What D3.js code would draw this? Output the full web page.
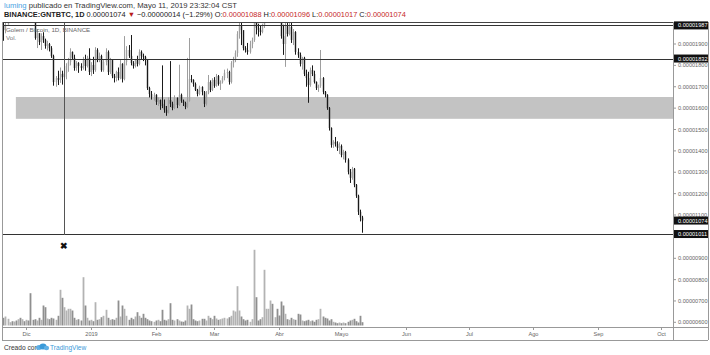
<!DOCTYPE html>
<html><head><meta charset="utf-8">
<script src="https://cdn.jsdelivr.net/npm/d3@7"></script>
<style>body{margin:0;background:#fff}svg{display:block;font-family:"Liberation Sans",Arial,sans-serif}</style>
</head><body><svg id="c" width="710" height="355"></svg>
<script>
// ---- DATA (prices in units of 1e-8 BTC) ----
const startDate = "2018-11-20";
const firstOpen = 1990;
const closes = [1965,1990,2040,2060,2050,2080,2070,2100,2090,2110,2080,2100,2070,2060,2040,1928,1951,1909,1937,1919,1891,1900,1880,1844,1722,1741,1732,1760,1745,1764,1797,1816,1863,1835,1788,1811,1797,1788,1825,1797,1835,1769,1802,1778,1872,1825,1844,1778,1816,1863,1769,1825,1750,1741,1769,1741,1807,1736,1816,1872,1844,1811,1797,1825,1807,1863,1844,1839,1825,1694,1666,1652,1662,1629,1638,1620,1610,1592,1578,1638,1620,1601,1648,1615,1662,1634,1624,1606,1634,1736,1732,1713,1685,1666,1699,1676,1620,1671,1722,1685,1732,1704,1750,1713,1722,1741,1764,1769,1722,1811,1825,1858,1947,1984,1965,1881,1872,1863,1900,1919,2003,1975,1965,1956,1984,2020,2050,2080,2100,2070,2090,2060,2040,1937,1900,1984,1947,1980,1919,1956,1863,1849,1807,1835,1760,1741,1708,1778,1760,1722,1694,1704,1741,1676,1662,1601,1507,1428,1442,1433,1414,1423,1381,1395,1358,1302,1274,1316,1241,1190,1115,1088,1074];
const highs = [2020,2030,2080,2090,2085,2110,2100,2130,2120,2140,2120,2120,2110,2090,2070,2050,1970,1935,1950,1955,1925,1915,1905,1890,1850,1750,1775,1790,1775,1795,1810,1835,1880,1865,1850,1820,1815,1810,1840,1850,1845,1880,1815,1840,1885,1880,1860,1850,1825,1880,1870,1835,1820,1760,1775,1790,1825,1810,1937,1890,1895,1942,1820,1830,1845,1875,1870,1855,1845,1830,1700,1680,1672,1665,1650,1640,1800,1640,1610,1650,1820,1630,1660,1650,1803,1668,1640,1630,1835,1928,1755,1735,1720,1690,1705,1702,1680,1680,1755,1730,1740,1745,1760,1755,1730,1750,1780,1785,1775,1820,1840,1870,1960,2020,2005,1960,1890,1905,1915,1930,2030,2040,1995,1985,1995,2040,2080,2110,2130,2110,2120,2100,2080,2050,1990,2000,2010,1998,2005,1970,1960,1880,1860,1840,1840,1780,1770,1790,1800,1775,1725,1710,1872,1745,1680,1665,1605,1510,1450,1465,1445,1440,1430,1405,1400,1365,1315,1325,1320,1245,1195,1125,1096];
const lows = [1915,1950,2015,2030,2025,2045,2050,2060,2070,2075,2060,2070,2050,2040,2020,1920,1881,1895,1872,1905,1878,1870,1865,1835,1705,1700,1708,1718,1710,1720,1735,1770,1800,1825,1775,1775,1765,1775,1780,1775,1790,1755,1750,1760,1770,1815,1815,1770,1770,1800,1755,1760,1740,1720,1725,1730,1735,1720,1730,1800,1835,1800,1785,1790,1795,1800,1830,1820,1800,1685,1650,1640,1635,1615,1610,1592,1600,1578,1564,1575,1605,1590,1595,1600,1610,1625,1610,1595,1600,1630,1720,1700,1680,1655,1660,1660,1605,1612,1665,1675,1680,1695,1700,1705,1685,1715,1730,1740,1710,1715,1790,1815,1840,1925,1895,1870,1860,1850,1855,1880,1910,1945,1935,1940,1950,1975,2015,2040,2060,2040,2050,2030,2010,1925,1849,1793,1935,1940,1905,1895,1850,1835,1795,1780,1750,1700,1625,1700,1750,1715,1685,1676,1695,1665,1650,1592,1495,1415,1414,1420,1400,1385,1370,1360,1345,1290,1250,1265,1230,1180,1100,1070,1017];
const volumes = [7.7,9,6.7,3.3,4.3,4,5,6.3,7.7,6.3,4.3,5.7,5,32.3,5.7,6.3,5,7.7,5.7,20,18.3,7,6.3,7.7,7,5.7,9.7,35.7,27.7,18.3,15,16.7,16.7,15,7.7,5.7,6.3,5,48.3,20,7.7,5,5.7,4.3,23.3,5.7,6.3,8.3,9.7,15.7,7.7,5.7,6.3,5.7,7.7,25,9,20,16.7,9.7,5.7,7.7,6.3,9,13.3,9.7,7.7,11.7,7.7,6.3,5,4.3,3.7,5,5.7,4.3,15.7,5.7,5,6.3,22.3,5.7,5,6.3,5,4,3.7,5,20,16.7,21,6.3,5,4.3,5,6.7,6.7,5,9.7,7.7,6.3,9.7,7,5.7,6.3,7,7.7,7,8.3,9.7,15,14,39.3,15,9,6.3,5,5.7,3.7,6.3,75.7,28.3,5,6.3,8.3,55.7,16.7,16.7,25,21.7,8.3,16.7,10,24,20,11.7,6.3,5.7,7.7,6.3,5.7,11.7,11,5,4.3,5,5.7,4.3,5,3.7,5.7,6.3,16.7,9,7.7,7,5,6.3,3.7,3,2.3,3,2.3,3,2.3,3.7,5,5.7,6.7,4.3,3,9.7,3.3];
const priceTicks = [1100,1200,1300,1400,1500,1600,1700,1800,1900];
const priceMarks = [1987,1832,1074,1011];       // highlighted axis labels
const hLines = [1987,1832,1011];                // drawn horizontal lines
const zone = [1550,1652];                       // gray rectangle price range
const zoneStart = "2018-11-26";
const vLineDate = "2018-12-19";
const volAxisTicks = [900,800,700,600];
const monthTicks = ["2018-12-01","2019-01-01","2019-02-01","2019-03-01","2019-04-01","2019-05-01","2019-06-01","2019-07-01","2019-08-01","2019-09-01","2019-10-01"];
const monthLabels = ["Dic","2019","Feb","Mar","Abr","Mayo","Jun","Jul","Ago","Sep","Oct"];

// ---- LAYOUT ----
const L = 2, R = 673, RE = 708, T = 22, PB = 235, VB = 327, B = 340;
const svg = d3.select("#c");
const parse = d3.utcParse("%Y-%m-%d");
const dates = d3.utcDay.range(parse(startDate), d3.utcDay.offset(parse(startDate), closes.length));
const opens = closes.map((c, i) => i === 0 ? firstOpen : closes[i - 1]);

const x = d3.scaleUtc().domain([parse("2018-12-01"), parse("2019-10-01")]).range([26.3, 660.5]);
const y = d3.scaleLinear().domain([1100, 1900]).range([215, 44]);
const yv = d3.scaleLinear().domain([0, 90]).range([325.5, 235.5]);
const yva = d3.scaleLinear().domain([600, 900]).range([322.3, 258.3]);
const fmt = v => (v * 1e-8).toFixed(8);

const defs = svg.append("defs");
defs.append("clipPath").attr("id", "pc").append("rect").attr("x", L).attr("y", T).attr("width", R - L).attr("height", PB - T);
defs.append("clipPath").attr("id", "vc").append("rect").attr("x", L).attr("y", PB).attr("width", R - L).attr("height", VB - PB);

// header
const h1 = svg.append("text").attr("x", 4).attr("y", 8).attr("font-size", 7.7).attr("fill", "#333");
h1.append("tspan").attr("fill", "#4aa3df").text("luming");
h1.append("tspan").text(" publicado en TradingView.com, Mayo 11, 2019 23:32:04 CST");
const h2 = svg.append("text").attr("x", 4).attr("y", 17).attr("font-size", 7.4).attr("fill", "#222");
h2.append("tspan").attr("font-weight", "bold").text("BINANCE:GNTBTC, 1D");
h2.append("tspan").text(" 0.00001074 ");
h2.append("tspan").attr("fill", "#b71c1c").text("▼");
h2.append("tspan").text(" \u22120.00000014 (\u22121.29%) O:");
h2.append("tspan").attr("fill", "#c62828").text(fmt(opens[opens.length-1]));
h2.append("tspan").text(" H:");
h2.append("tspan").attr("fill", "#c62828").text(fmt(highs[highs.length-1]));
h2.append("tspan").text(" L:");
h2.append("tspan").attr("fill", "#c62828").text(fmt(lows[lows.length-1]));
h2.append("tspan").text(" C:");
h2.append("tspan").attr("fill", "#c62828").text(fmt(closes[closes.length-1]));

// zone rect
const pg = svg.append("g").attr("clip-path", "url(#pc)");
pg.append("rect").attr("x", x(parse(zoneStart))).attr("y", y(zone[1]))
  .attr("width", R - x(parse(zoneStart))).attr("height", y(zone[0]) - y(zone[1])).attr("fill", "#c3c3c3");

// candles
const cw = 1.4;
const cg = pg.append("g");
dates.forEach((d, i) => {
  const up = closes[i] >= opens[i];
  const col = up ? "#9e9e9e" : "#1a1a1a";
  const cx = Math.round(x(d)) + 0.5;
  cg.append("line").attr("x1", cx).attr("x2", cx).attr("y1", y(highs[i])).attr("y2", y(lows[i])).attr("stroke", col).attr("stroke-width", 1);
  const top = y(Math.max(opens[i], closes[i])), bot = y(Math.min(opens[i], closes[i]));
  cg.append("rect").attr("x", cx - cw / 2).attr("y", top).attr("width", cw).attr("height", Math.max(0.8, bot - top)).attr("fill", col);
});

// horizontal lines and vertical line
hLines.forEach(p => svg.append("line").attr("x1", L).attr("x2", R).attr("y1", Math.round(y(p)) + 0.5).attr("y2", Math.round(y(p)) + 0.5).attr("stroke", "#333").attr("stroke-width", 1));
const vx = Math.round(x(parse(vLineDate))) + 0.5;
svg.append("line").attr("x1", vx).attr("x2", vx).attr("y1", T).attr("y2", PB).attr("stroke", "#555").attr("stroke-width", 1);

// legend
svg.append("text").attr("x", 6).attr("y", 32).attr("font-size", 6.2).attr("fill", "#666").text("Golem / Bitcoin, 1D, BINANCE");
svg.append("text").attr("x", 6).attr("y", 40).attr("font-size", 6.2).attr("fill", "#777").text("Vol.");

// volume
const vg = svg.append("g").attr("clip-path", "url(#vc)");
dates.forEach((d, i) => {
  const up = closes[i] >= opens[i];
  const cx = Math.round(x(d)) + 0.5;
  vg.append("rect").attr("x", cx - 0.9).attr("y", yv(volumes[i])).attr("width", 1.8).attr("height", yv(0) - yv(volumes[i]))
    .attr("fill", up ? "#b3b3b3" : "#8f8f8f");
});
svg.append("text").attr("x", x(parse(vLineDate)) - 3.5).attr("y", 249).attr("font-size", 9).attr("font-weight", "bold").attr("fill", "#111").text("✖");

// frame
const fr = svg.append("g").attr("stroke", "#999").attr("stroke-width", 1).attr("fill", "none");
fr.append("line").attr("x1", L).attr("x2", RE).attr("y1", T + 0.5).attr("y2", T + 0.5).attr("stroke", "#444");
fr.append("line").attr("x1", L + 0.5).attr("x2", L + 0.5).attr("y1", T).attr("y2", B);
fr.append("line").attr("x1", R + 0.5).attr("x2", R + 0.5).attr("y1", T).attr("y2", B);
fr.append("line").attr("x1", RE + 0.5).attr("x2", RE + 0.5).attr("y1", T).attr("y2", B);
fr.append("line").attr("x1", L).attr("x2", RE).attr("y1", VB + 0.5).attr("y2", VB + 0.5);
fr.append("line").attr("x1", L).attr("x2", RE).attr("y1", B + 0.5).attr("y2", B + 0.5);

// price axis
const pa = svg.append("g").attr("font-size", 5.6).attr("fill", "#666");
priceTicks.forEach(p => {
  const yy = y(p);
  pa.append("line").attr("x1", R).attr("x2", R + 3).attr("y1", yy).attr("y2", yy).attr("stroke", "#999");
  pa.append("text").attr("x", R + 5).attr("y", yy + 2).text(fmt(p));
});
priceMarks.forEach(p => {
  const yy = y(p);
  svg.append("rect").attr("x", R + 1).attr("y", yy - 4).attr("width", RE - R - 1).attr("height", 8).attr("fill", "#111");
  svg.append("text").attr("x", R + 5).attr("y", yy + 2).attr("font-size", 5.6).attr("fill", "#fff").text(fmt(p));
});
// volume pane axis
volAxisTicks.forEach(p => {
  const yy = yva(p);
  pa.append("line").attr("x1", R).attr("x2", R + 3).attr("y1", yy).attr("y2", yy).attr("stroke", "#999");
  pa.append("text").attr("x", R + 5).attr("y", yy + 2).text((p * 1e-8).toFixed(8));
});

// time axis
const ta = svg.append("g").attr("font-size", 5.6).attr("fill", "#666");
monthTicks.forEach((m, i) => {
  const xx = Math.round(x(parse(m))) + 0.5;
  ta.append("line").attr("x1", xx).attr("x2", xx).attr("y1", VB).attr("y2", VB + 3).attr("stroke", "#999");
  ta.append("text").attr("x", xx).attr("y", VB + 9).attr("text-anchor", "middle").text(monthLabels[i]);
});

// footer
svg.append("text").attr("x", 4).attr("y", 350).attr("font-size", 6.6).attr("fill", "#333").text("Creado con");
const lg = svg.append("g").attr("transform", "translate(36,344)");
lg.append("ellipse").attr("cx", 3).attr("cy", 3.5).attr("rx", 3).attr("ry", 2.5).attr("fill", "#5fb0e6");
lg.append("ellipse").attr("cx", 7).attr("cy", 2.5).attr("rx", 3.5).attr("ry", 3).attr("fill", "#3a9ad9");
lg.append("ellipse").attr("cx", 10.5).attr("cy", 4).attr("rx", 2.6).attr("ry", 2.2).attr("fill", "#5fb0e6");
svg.append("text").attr("x", 50).attr("y", 350).attr("font-size", 6.6).attr("fill", "#3a9ad9").text("TradingView");
</script></body></html>
